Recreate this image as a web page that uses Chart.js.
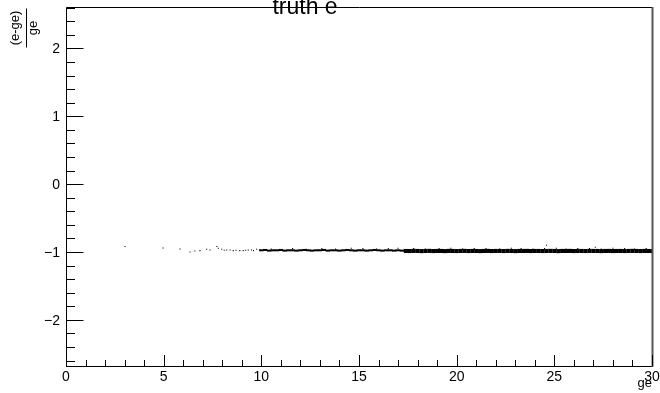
<!DOCTYPE html>
<html>
<head>
<meta charset="utf-8">
<script src="https://cdn.jsdelivr.net/npm/chart.js@4"></script>
<style>
  html, body { margin: 0; padding: 0; background: #fff; }
  canvas { display: block; }
</style>
</head>
<body>
<canvas id="scatter" width="660" height="393"></canvas>
<script>
// axis tick labels
const xTickValues = [0, 5, 10, 15, 20, 25, 30];
const xTickLabels = ['0', '5', '10', '15', '20', '25', '30'];
const yTickValues = [-2, -1, 0, 1, 2];
const yTickLabels = ['\u22122', '\u22121', '0', '1', '2'];

// sparse points at low ge
const sparseX = [3.02, 4.97, 5.84, 6.35, 6.6, 6.86, 7.2, 7.37, 7.72, 7.8, 7.97, 8.1, 8.23, 8.4, 8.56, 8.7, 8.9, 9.07, 9.2, 9.33, 9.5, 9.6, 9.76, 9.93];
const sparseY = [-0.92, -0.94, -0.955, -1.0, -0.985, -0.98, -0.96, -0.97, -0.92, -0.945, -0.96, -0.975, -0.97, -0.97, -0.98, -0.975, -0.98, -0.98, -0.975, -0.97, -0.97, -0.98, -0.96, -0.97];

// thin band, ge 10 - 17.4
const midX = [10.0, 10.2, 10.4, 10.6, 10.8, 11.0, 11.2, 11.4, 11.6, 11.8, 12.0, 12.2, 12.4, 12.6, 12.8, 13.0, 13.2, 13.4, 13.6, 13.8, 14.0, 14.2, 14.4, 14.6, 14.8, 15.0, 15.2, 15.4, 15.6, 15.8, 16.0, 16.2, 16.4, 16.6, 16.8, 17.0, 17.2, 17.4];
const midY = [-0.975, -0.97, -0.98, -0.975, -0.975, -0.97, -0.98, -0.975, -0.975, -0.98, -0.975, -0.97, -0.975, -0.98, -0.975, -0.975, -0.97, -0.98, -0.975, -0.975, -0.98, -0.975, -0.97, -0.975, -0.98, -0.975, -0.975, -0.98, -0.975, -0.97, -0.975, -0.98, -0.975, -0.975, -0.98, -0.975, -0.98, -0.98];
const midTopX = [10.5, 11.6, 12.3, 13.1, 13.8, 14.6, 15.2, 15.9, 16.5, 17.0];
const midTopY = [-0.955, -0.95, -0.96, -0.95, -0.955, -0.945, -0.95, -0.955, -0.95, -0.945];

// thick band, ge 17.4 - 30
const denseX = [17.4, 17.6, 17.8, 18.0, 18.2, 18.4, 18.6, 18.8, 19.0, 19.2, 19.4, 19.6, 19.8, 20.0, 20.2, 20.4, 20.6, 20.8, 21.0, 21.2, 21.4, 21.6, 21.8, 22.0, 22.2, 22.4, 22.6, 22.8, 23.0, 23.2, 23.4, 23.6, 23.8, 24.0, 24.2, 24.4, 24.6, 24.8, 25.0, 25.2, 25.4, 25.6, 25.8, 26.0, 26.2, 26.4, 26.6, 26.8, 27.0, 27.2, 27.4, 27.6, 27.8, 28.0, 28.2, 28.4, 28.6, 28.8, 29.0, 29.2, 29.4, 29.6, 29.8, 30.0];
const denseY = [-0.985, -0.986, -0.984, -0.985, -0.987, -0.985, -0.984, -0.986, -0.985, -0.985, -0.987, -0.984, -0.985, -0.986, -0.985, -0.984, -0.986, -0.985, -0.985, -0.987, -0.985, -0.984, -0.986, -0.985, -0.985, -0.986, -0.984, -0.985, -0.987, -0.985, -0.985, -0.984, -0.986, -0.985, -0.985, -0.986, -0.985, -0.984, -0.985, -0.987, -0.985, -0.985, -0.984, -0.986, -0.985, -0.985, -0.986, -0.984, -0.985, -0.985, -0.987, -0.985, -0.984, -0.986, -0.985, -0.985, -0.986, -0.985, -0.984, -0.985, -0.986, -0.985, -0.985, -0.986];
const denseTopX = [17.8, 18.4, 19.1, 19.7, 20.3, 20.9, 21.5, 22.2, 22.8, 23.3, 23.9, 24.5, 25.1, 25.6, 26.2, 26.8, 27.4, 28.0, 28.6, 29.1, 29.7, 24.6, 27.1];
const denseTopY = [-0.95, -0.955, -0.95, -0.945, -0.955, -0.95, -0.95, -0.955, -0.945, -0.95, -0.955, -0.95, -0.945, -0.955, -0.95, -0.95, -0.955, -0.945, -0.95, -0.955, -0.95, -0.9, -0.93];

const toPoints = (xs, ys) => xs.map((x, i) => ({ x, y: ys[i] }));

const FONT = '"Liberation Sans", Arial, Helvetica, sans-serif';

function pointSet(xs, ys, r, style = 'rect', bw = 0) {
  return {
    data: toPoints(xs, ys),
    pointStyle: style,
    pointRadius: r,
    pointHoverRadius: r,
    pointBorderWidth: bw,
    backgroundColor: '#000',
    borderColor: '#000',
    showLine: false,
    clip: 0
  };
}

// ROOT style frame: ticks inside, labels outside
const rootFrame = {
  id: 'rootFrame',
  afterDraw(chart) {
    const { ctx, chartArea: a } = chart;
    const xs = chart.scales.x, ys = chart.scales.y;
    ctx.save();
    ctx.strokeStyle = '#000';
    ctx.lineWidth = 1;

    // frame
    ctx.beginPath();
    ctx.moveTo(a.left + 0.5, a.bottom + 0.5);
    ctx.lineTo(a.left + 0.5, a.top + 0.5);
    ctx.lineTo(a.right, a.top + 0.5);
    ctx.moveTo(a.left, a.bottom + 0.5);
    ctx.lineTo(a.right, a.bottom + 0.5);
    ctx.stroke();
    ctx.strokeStyle = '#555';
    ctx.lineWidth = 2;
    ctx.beginPath();
    ctx.moveTo(a.right + 0.5, a.top);
    ctx.lineTo(a.right + 0.5, a.bottom + 1);
    ctx.stroke();

    ctx.strokeStyle = '#000';
    ctx.lineWidth = 1;
    ctx.beginPath();
    // x ticks: major every 5, minor every 1
    for (let v = 0; v <= 30; v++) {
      const px = Math.round(xs.getPixelForValue(v)) + 0.5;
      const len = v % 5 === 0 ? 11 : 6;
      ctx.moveTo(px, a.bottom);
      ctx.lineTo(px, a.bottom - len);
    }
    // y ticks: major every 1, minor every 0.2
    for (let k = -13; k <= 13; k++) {
      const v = k / 5;
      const py = Math.round(ys.getPixelForValue(v)) + 0.5;
      const len = k % 5 === 0 ? 17.5 : 9;
      ctx.moveTo(a.left, py);
      ctx.lineTo(a.left + len, py);
    }
    ctx.stroke();

    ctx.fillStyle = '#000';
    ctx.font = '14px ' + FONT;
    ctx.textAlign = 'center';
    ctx.textBaseline = 'top';
    xTickValues.forEach((v, i) => {
      ctx.fillText(xTickLabels[i], xs.getPixelForValue(v), a.bottom + 4);
    });
    ctx.textAlign = 'right';
    ctx.textBaseline = 'middle';
    yTickValues.forEach((v, i) => {
      ctx.fillText(yTickLabels[i], a.left - 6, ys.getPixelForValue(v) + 1);
    });

    // x axis title
    ctx.font = '13px ' + FONT;
    ctx.textAlign = 'right';
    ctx.textBaseline = 'alphabetic';
    ctx.fillText('ge', a.right, 387);

    // y axis title as fraction, rotated
    ctx.save();
    ctx.translate(0, 28);
    ctx.rotate(-Math.PI / 2);
    ctx.textAlign = 'center';
    ctx.textBaseline = 'middle';
    ctx.font = '13px ' + FONT;
    ctx.fillText('(e-ge)', 0, 15);
    ctx.fillText('ge', 0, 33);
    ctx.beginPath();
    ctx.moveTo(-19.5, 26.5);
    ctx.lineTo(19.5, 26.5);
    ctx.stroke();
    ctx.restore();

    // title
    ctx.font = '23px ' + FONT;
    ctx.textAlign = 'center';
    ctx.textBaseline = 'alphabetic';
    ctx.fillText('truth e', 305, 14);
    ctx.restore();
  }
};

new Chart(document.getElementById('scatter'), {
  type: 'scatter',
  data: {
    datasets: [
      pointSet(sparseX, sparseY, 0.75),
      pointSet(midX, midY, 2.2, 'line', 2),
      pointSet(midTopX, midTopY, 0.75),
      pointSet(denseX, denseY, 2.9),
      pointSet(denseTopX, denseTopY, 0.75)
    ]
  },
  options: {
    responsive: false,
    animation: false,
    events: [],
    layout: { padding: { left: 66, right: 8, top: 7, bottom: 27 } },
    plugins: {
      legend: { display: false },
      tooltip: { enabled: false },
      title: { display: false }
    },
    scales: {
      x: { type: 'linear', min: 0, max: 30, display: false },
      y: { type: 'linear', min: -2.68, max: 2.61, display: false }
    }
  },
  plugins: [rootFrame]
});
</script>
</body>
</html>
